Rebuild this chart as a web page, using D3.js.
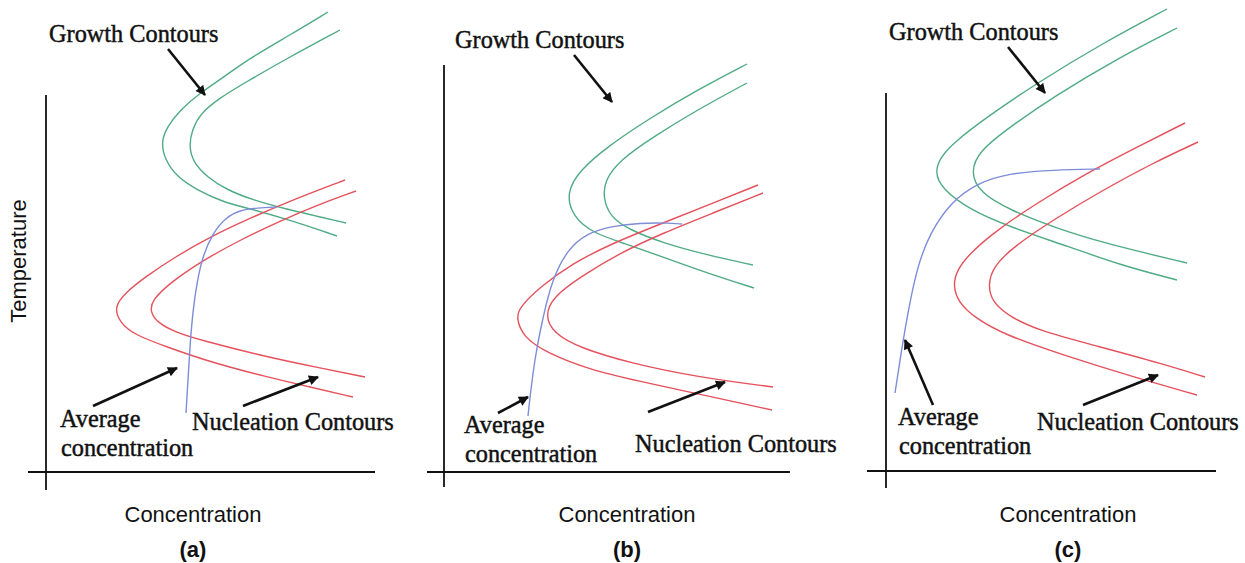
<!DOCTYPE html>
<html><head><meta charset="utf-8">
<script src="https://cdn.jsdelivr.net/npm/d3@7"></script>
<style>body{margin:0;background:#fff}svg{display:block}</style>
</head><body>
<svg id="chart" width="1245" height="563"></svg>
<script>
// ---------- DATA (arbitrary units: concentration, temperature) ----------
const panelLabels = ["(a)", "(b)", "(c)"];
const xAxisTitle = "Concentration";
const yAxisTitle = "Temperature";
const growthLabel = "Growth Contours";
const nucleationLabel = "Nucleation Contours";
const averageLabel = ["Average", "concentration"];

// Panel (a)
const growthOuterA = [[282,460],[244,437],[204,414],[175,393],[154,379],[134,362],[121,345],[115,330],[119,312],[131,295],[151,282],[177,270],[201,264],[244,252],[291,236]];
const growthInnerA = [[294,442],[240,413],[200,390],[172,373],[154,358],[146,342],[143,326],[147,310],[161,295],[181,282],[207,272],[240,263],[266,257],[300,249]];
const nucleationOuterA = [[299,292],[254,275],[204,254],[164,235],[129,215],[99,195],[79,179],[68,165],[74,149],[89,137],[121,125],[164,110],[221,95],[264,85],[307,75]];
const nucleationInnerA = [[310,281],[274,268],[234,251],[194,232],[154,210],[124,189],[106,172],[104,160],[112,149],[129,140],[154,132],[221,115],[274,104],[319,95]];
const averageA = [[140,59],[142,92],[144,127],[147,162],[151,190],[157,217],[167,239],[179,254],[194,262],[211,264],[231,265]];

// Panel (b)
const growthOuterB = [[303,408],[253,382],[203,352],[163,325],[136,302],[122,279],[129,255],[149,239],[179,229],[219,215],[263,199],[310,184]];
const growthInnerB = [[303,389],[253,362],[209,335],[176,312],[161,292],[159,275],[166,255],[186,242],[219,229],[263,217],[309,207]];
const nucleationOuterB = [[314,287],[269,269],[219,249],[169,229],[129,209],[96,185],[76,165],[72,155],[79,135],[103,119],[146,102],[203,89],[269,75],[328,62]];
const nucleationInnerB = [[319,279],[269,259],[219,239],[176,219],[136,195],[109,175],[101,157],[109,139],[136,124],[186,109],[253,95],[329,85]];
const averageB = [[84,56],[86,75],[91,115],[99,155],[108,192],[123,222],[143,239],[169,246],[196,249],[223,249],[238,248]];

// Panel (c)
const growthOuterC = [[281,462],[217,428],[151,388],[101,354],[67,328],[54,313],[49,299],[55,283],[84,261],[124,244],[184,224],[234,206],[291,191]];
const growthInnerC = [[291,443],[234,414],[167,374],[124,344],[94,321],[84,299],[94,278],[124,261],[167,244],[217,228],[301,208]];
const nucleationOuterC = [[299,348],[251,324],[201,298],[151,268],[111,241],[84,218],[71,201],[67,186],[72,169],[89,153],[119,136],[177,116],[244,95],[311,76]];
const nucleationInnerC = [[312,329],[267,308],[217,281],[167,251],[127,224],[107,204],[102,186],[106,169],[124,154],[154,140],[211,125],[277,107],[319,94]];
const averageC = [[9,78],[14,111],[21,154],[31,204],[44,238],[64,268],[91,288],[124,298],[167,301],[214,302]];

// Annotation arrows [fromConc, fromTemp, toConc, toTemp]
const arrowsA = [[122,423,159,377],[47,66,131,104],[197,66,272,95]];
const arrowsB = [[130,417,168,370],[54,59,84,75],[204,60,281,90]];
const arrowsC = [[122,424,159,378],[47,66,19,131],[197,66,272,96]];

// Axis extents [concMin, concMax, tempMin, tempMax]
const axisA = [-18, 329, -18, 377];
const axisB = [-17, 346, -15, 407];
const axisC = [-19, 330, -17, 378];

// Label anchors (concentration, temperature)
const growthPosA = [3,430], growthPosB = [11,424], growthPosC = [3,431];
const averagePosA = [14,45], averagePosB = [20,39], averagePosC = [12,46];
const nucleationPosA = [146,42], nucleationPosB = [191,20], nucleationPosC = [151,41];

// ---------- LAYOUT ----------
const svg = d3.select("#chart");
const green = "#4fab84", red = "#e5515c", blue = "#7d8dd8";
const serif = "'Liberation Serif','Times New Roman',serif";
const sans = "'Liberation Sans',Arial,sans-serif";

svg.append("defs").append("marker")
  .attr("id","ah").attr("viewBox","0 0 10 10").attr("refX",9).attr("refY",5)
  .attr("markerUnits","userSpaceOnUse").attr("markerWidth",11).attr("markerHeight",10)
  .attr("orient","auto")
  .append("path").attr("d","M0,0 L10,5 L0,10 z").attr("fill","#111");

const panels = [
  {ox:46, oy:472, label:panelLabels[0], cx:193, go:growthOuterA, gi:growthInnerA, no:nucleationOuterA, ni:nucleationInnerA, av:averageA, arrows:arrowsA, axis:axisA, gp:growthPosA, ap:averagePosA, np:nucleationPosA},
  {ox:444, oy:472, label:panelLabels[1], cx:627, go:growthOuterB, gi:growthInnerB, no:nucleationOuterB, ni:nucleationInnerB, av:averageB, arrows:arrowsB, axis:axisB, gp:growthPosB, ap:averagePosB, np:nucleationPosB},
  {ox:886, oy:471, label:panelLabels[2], cx:1068, go:growthOuterC, gi:growthInnerC, no:nucleationOuterC, ni:nucleationInnerC, av:averageC, arrows:arrowsC, axis:axisC, gp:growthPosC, ap:averagePosC, np:nucleationPosC}
];

function serifText(g, xx, yy, s) {
  g.append("text").attr("x", xx).attr("y", yy).text(s)
    .attr("font-family", serif).attr("font-size", 24.3).attr("fill","#111")
    .attr("stroke","#111").attr("stroke-width",0.45);
}

panels.forEach((p, i) => {
  const x = d3.scaleLinear().domain([0, 350]).range([p.ox, p.ox + 350]);
  const y = d3.scaleLinear().domain([0, 470]).range([p.oy, p.oy - 470]);
  const g = svg.append("g");
  const line = d3.line().x(d => x(d[0])).y(d => y(d[1])).curve(d3.curveBasis);

  // axes
  g.append("line").attr("x1", x(p.axis[0])).attr("x2", x(p.axis[1])).attr("y1", y(0)).attr("y2", y(0))
    .attr("stroke","#111").attr("stroke-width",1.8);
  g.append("line").attr("x1", x(0)).attr("x2", x(0)).attr("y1", y(p.axis[2])).attr("y2", y(p.axis[3]))
    .attr("stroke","#111").attr("stroke-width",1.8);

  // contours
  [[p.go, green],[p.gi, green],[p.no, red],[p.ni, red],[p.av, blue]].forEach(([data, col]) => {
    g.append("path").datum(data).attr("d", line).attr("fill","none")
      .attr("stroke", col).attr("stroke-width", 1.4);
  });

  // arrows
  p.arrows.forEach(a => {
    g.append("line").attr("x1", x(a[0])).attr("y1", y(a[1])).attr("x2", x(a[2])).attr("y2", y(a[3]))
      .attr("stroke","#111").attr("stroke-width",2.6).attr("marker-end","url(#ah)");
  });

  // labels
  serifText(g, x(p.gp[0]), y(p.gp[1]), growthLabel);
  serifText(g, x(p.ap[0]), y(p.ap[1]), averageLabel[0]);
  serifText(g, x(p.ap[0] + 1), y(p.ap[1]) + 29, averageLabel[1]);
  serifText(g, x(p.np[0]), y(p.np[1]), nucleationLabel);

  g.append("text").attr("x", p.cx).attr("y", 522).attr("text-anchor","middle").text(xAxisTitle)
    .attr("font-family", sans).attr("font-size", 22).attr("fill","#111");
  g.append("text").attr("x", p.cx).attr("y", 557).attr("text-anchor","middle").text(p.label)
    .attr("font-family", sans).attr("font-weight","bold").attr("font-size", 22).attr("fill","#111");

  if (i === 0) {
    g.append("text").attr("transform","translate(26,261) rotate(-90)").attr("text-anchor","middle")
      .text(yAxisTitle).attr("font-family", sans).attr("font-size", 22).attr("fill","#111");
  }
});
</script>
</body></html>
